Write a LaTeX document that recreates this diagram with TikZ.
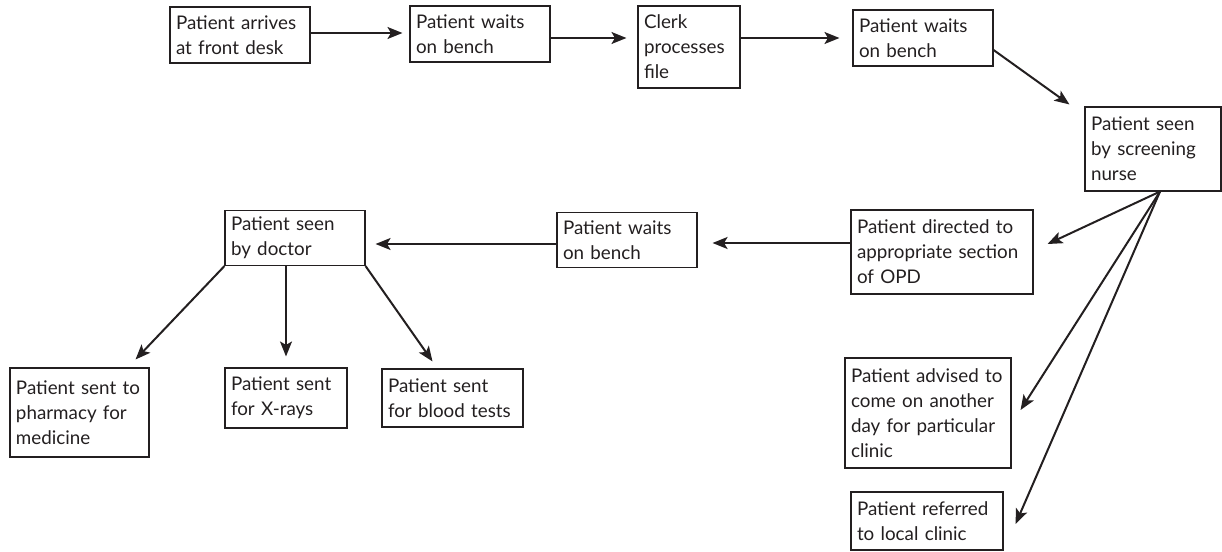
\documentclass[tikz,border=0pt]{standalone}
\usepackage{fontspec}
\setmainfont{Lato}
\usetikzlibrary{arrows.meta,calc}
\definecolor{ink}{HTML}{231F20}
\tikzset{
  box/.style={draw=ink, line width=1.1pt, inner xsep=6pt, inner ysep=2pt, align=left,
    font=\fontsize{18.8}{25}\selectfont, text=ink},
  flow/.style={draw=ink, line width=2pt, -{Stealth[length=15pt,width=12pt,inset=3.5pt]}}
}
\newcommand{\bx}[6]{\node[box, text width=#4pt-12pt, minimum width=#4pt, minimum height=#5pt] (#1) at (#2,#3) {#6};}
\begin{document}
\begin{tikzpicture}[x=1pt,y=-1pt]
\path[use as bounding box] (0,0) rectangle (1222,551);
\bx{b1}{240}{35}{140}{56}{Patient arrives\\at front desk}
\bx{b2}{480}{34}{140}{56}{Patient waits\\on bench}
\bx{b3}{689}{47}{102}{82}{Clerk\\processes\\file}
\bx{b4}{923}{38}{140}{56}{Patient waits\\on bench}
\bx{b5}{1153}{149}{136}{84}{Patient seen\\by screening\\nurse}
\bx{b6}{942}{252}{182}{84}{Patient directed to\\appropriate section\\of OPD}
\bx{b7}{627}{240}{140}{55}{Patient waits\\on bench}
\bx{b8}{295}{238}{140}{55}{Patient seen\\by doctor}
\bx{b9}{79.5}{412.5}{139}{89}{Patient sent to\\pharmacy for\\medicine}
\bx{b10}{286}{398}{122}{60}{Patient sent\\for X-rays}
\bx{b11}{452.5}{398}{141}{58}{Patient sent\\for blood tests}
\bx{b12}{928}{413}{166}{110}{Patient advised to\\come on another\\day for particular\\clinic}
\bx{b13}{927}{521}{152}{58}{Patient referred\\to local clinic}

\draw[flow, shorten >=7pt] ([yshift=2pt]b1.east) -- ([yshift=2pt]b1.east -| b2.west);
\draw[flow, shorten >=11pt] ([yshift=-4pt]b2.east) -- ([yshift=-4pt]b2.east -| b3.west);
\draw[flow, shorten >=13pt] (b3.east |- b4.west) -- (b4.west);
\draw[flow] ([yshift=-12pt]b4.east) -- ($(b5.north west)+(-15,-2)$);
\draw[flow] ([xshift=7pt]b5.south) -- ($(b6.east)+(14,-8)$);
\draw[flow] ([xshift=7pt]b5.south) -- ($(b12.east)+(9,-3)$);
\draw[flow] ([xshift=7pt]b5.south) -- ($(b13.east)+(12,3)$);
\draw[flow, shorten >=15pt] ([yshift=9pt]b6.west) -- ([yshift=9pt]b6.west -| b7.east);
\draw[flow, shorten >=10pt] ([yshift=-4pt]b7.west) -- ([yshift=-4pt]b7.west -| b8.east);
\draw[flow] (b8.south west) -- ($(b9.north east)+(-14,-8)$);
\draw[flow, shorten >=11pt] (b10.north |- b8.south) -- (b10.north);
\draw[flow] (b8.south east) -- ($(b11.north)+(-20,-7)$);
\end{tikzpicture}
\end{document}
